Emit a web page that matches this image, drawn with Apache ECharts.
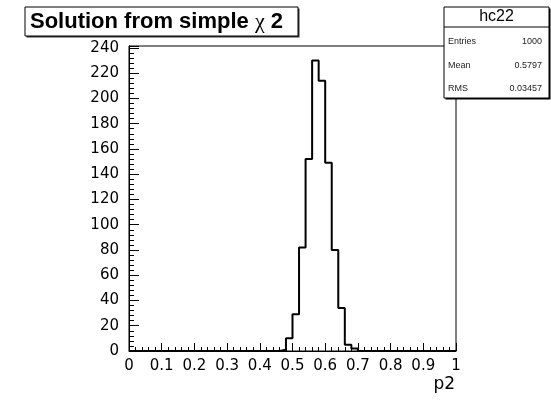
<!DOCTYPE html>
<html>
<head>
<meta charset="utf-8">
<script src="https://cdn.jsdelivr.net/npm/echarts@6/dist/echarts.min.js"></script>
<style>
html,body{margin:0;padding:0;background:#fff;}
#c{width:551px;height:405px;}
</style>
</head>
<body>
<div id="c"></div>
<script>
// Histogram data (bin low edges, bin width 0.02)
const binLow = [0.46, 0.48, 0.50, 0.52, 0.54, 0.56, 0.58, 0.60, 0.62, 0.64, 0.66, 0.68];
const counts = [1, 10, 29, 82, 152, 230, 214, 149, 80, 34, 5, 2];
const binWidth = 0.02;
const xRange = [0, 1];
const yMax = 241.5;
const titleText = 'Solution from simple ';
const statsName = 'hc22';
const statsLabels = ['Entries', 'Mean', 'RMS'];
const statsValues = ['1000', '0.5797', '0.03457'];
const xTitle = 'p2';

// build step data
const stepData = [[xRange[0], 0]];
for (let i = 0; i < binLow.length; i++) stepData.push([binLow[i], counts[i]]);
const lastEdge = binLow[binLow.length - 1] + binWidth;
stepData.push([lastEdge, 0]);
stepData.push([xRange[1], 0]);

const chart = echarts.init(document.getElementById('c'), null, {renderer: 'canvas'});
const tickFont = 'DejaVu Sans';

const statsY0 = 7, statsX0 = 444, statsW = 105, statsH = 91;
const statsGraphics = [
  {type: 'rect', shape: {x: statsX0 + 1.5, y: statsY0 + 1.5, width: statsW, height: statsH}, style: {fill: '#000'}, z: 100},
  {type: 'rect', shape: {x: statsX0, y: statsY0, width: statsW, height: statsH}, style: {fill: '#fff', stroke: '#000', lineWidth: 1}, z: 101},
  {type: 'line', shape: {x1: statsX0, y1: 27, x2: statsX0 + statsW, y2: 27}, style: {stroke: '#000', lineWidth: 1}, z: 102},
  {type: 'text', x: statsX0 + statsW / 2, y: 17, style: {text: statsName, font: '16px "Liberation Sans"', fill: '#000', align: 'center', verticalAlign: 'middle'}, z: 102}
];
const rowY = [42, 65.5, 89];
for (let i = 0; i < statsLabels.length; i++) {
  statsGraphics.push({type: 'text', x: 448, y: rowY[i], style: {text: statsLabels[i], font: '9px "Liberation Sans"', fill: '#222', align: 'left', verticalAlign: 'middle'}, z: 102});
  statsGraphics.push({type: 'text', x: 542, y: rowY[i], style: {text: statsValues[i], font: '9px "Liberation Sans"', fill: '#222', align: 'right', verticalAlign: 'middle'}, z: 102});
}

const option = {
  animation: false,
  backgroundColor: '#fff',
  grid: {left: 129, right: 95, top: 46, bottom: 54, show: true, borderColor: '#000', borderWidth: 1, backgroundColor: 'transparent'},
  xAxis: {
    type: 'value', min: xRange[0], max: xRange[1], interval: 0.1,
    axisLine: {show: true, onZero: false, lineStyle: {color: '#000', width: 1}},
    axisTick: {show: true, inside: true, length: 8, lineStyle: {color: '#000'}},
    minorTick: {show: true, splitNumber: 5, length: 4, lineStyle: {color: '#000'}},
    splitLine: {show: false},
    axisLabel: {color: '#000', fontFamily: tickFont, fontSize: 15, margin: 8,
      formatter: v => String(Math.round(v * 10) / 10)}
  },
  yAxis: {
    type: 'value', min: 0, max: yMax, interval: 20,
    axisLine: {show: true, lineStyle: {color: '#000', width: 1}},
    axisTick: {show: true, inside: true, length: 10, lineStyle: {color: '#000'}},
    minorTick: {show: true, splitNumber: 5, length: 5, lineStyle: {color: '#000'}},
    splitLine: {show: false},
    axisLabel: {color: '#000', fontFamily: tickFont, fontSize: 15, margin: 10}
  },
  series: [{
    type: 'line', step: 'end', data: stepData, symbol: 'none',
    lineStyle: {color: '#000', width: 2}, z: 5
  }],
  graphic: [
    {type: 'rect', shape: {x: 26.5, y: 8.5, width: 273, height: 29}, style: {fill: '#333'}, z: 100},
    {type: 'rect', shape: {x: 25, y: 7, width: 273, height: 29}, style: {fill: '#fff', stroke: '#000', lineWidth: 1}, z: 101},
    {type: 'text', x: 30, y: 22, z: 102, style: {
      text: '{a|' + titleText + '}{c|χ}{a| 2}',
      verticalAlign: 'middle', align: 'left',
      rich: {
        a: {font: 'bold 22px "Liberation Sans"', fill: '#000'},
        c: {font: '22px "Liberation Serif"', fill: '#000'}
      }
    }},
    {type: 'text', x: 455, y: 385, z: 102, style: {text: xTitle, font: '17px "DejaVu Sans"', fill: '#000', align: 'right', verticalAlign: 'middle'}}
  ].concat(statsGraphics)
};
chart.setOption(option);
</script>
</body>
</html>
